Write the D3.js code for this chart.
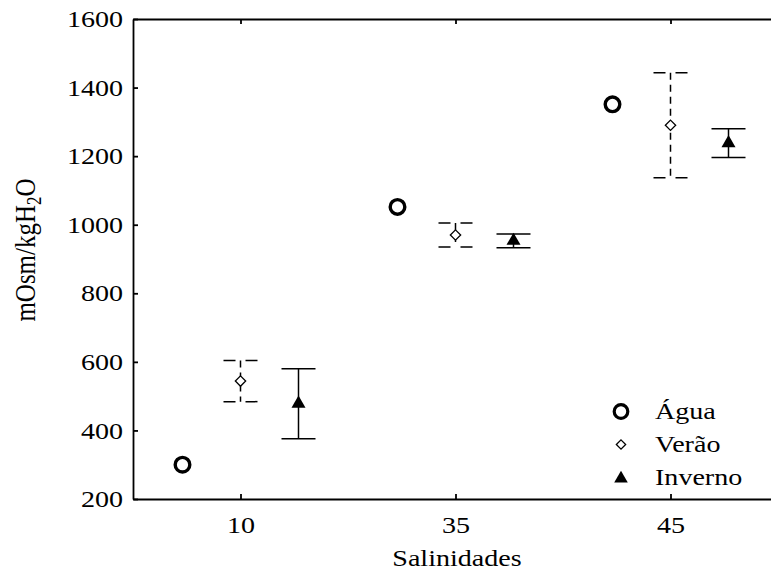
<!DOCTYPE html>
<html>
<head>
	<meta charset="utf-8">
	<title>Salinidades</title>
	<script src="https://cdn.jsdelivr.net/npm/d3@7"></script>
	<style>
	body { margin: 0; background: #fff; }
	svg text { font-family: 'Liberation Serif', serif; fill: #000; }
	.axis path, .axis line { stroke: #000; stroke-width: 1.8; }
	</style>
</head>
<body>
	<svg id="chart"></svg>
<script>
	// data
	var salinidades = ["10", "35", "45"];
	var agua = [300, 1052, 1351];
	var veraoMean = [544, 970, 1290];
	var veraoErr = [60, 35, 153];
	var invernoMean = [478, 953, 1238];
	var invernoErr = [102, 20, 42];
	var yTicks = [200, 400, 600, 800, 1000, 1200, 1400, 1600];
	var legendNames = ["Água", "Verão", "Inverno"];

	var width = 771, height = 583;
	var margin = {top: 19, right: -7, bottom: 84, left: 133};
	var fontSize = 24;
	var sx = 1.17; // the original figure is stretched sideways

	var svg = d3.select("#chart")
		.attr("width", width)
		.attr("height", height);

	var x = d3.scalePoint().domain(salinidades)
		.range([margin.left, width - margin.right]).padding(0.5);
	var y = d3.scaleLinear().domain([200, 1600])
		.range([height - margin.bottom, margin.top]);

	var offset = 58;

	//axes, ticks inward
	svg.append("g").attr("class", "axis")
		.attr("transform", "translate(" + margin.left + ",0)")
		.call(d3.axisLeft(y).tickValues(yTicks).tickFormat(d3.format("d"))
			.tickSize(-5).tickSizeOuter(0).tickPadding(8.5));

	svg.append("g").attr("class", "axis")
		.attr("transform", "translate(0," + (height - margin.bottom) + ")")
		.call(d3.axisBottom(x).tickSize(-5).tickSizeOuter(0).tickPadding(17));

	svg.append("g").attr("class", "axis")
		.attr("transform", "translate(0," + margin.top + ")")
		.call(d3.axisTop(x).tickSize(-5).tickSizeOuter(0).tickFormat(""));

	svg.selectAll(".axis")
		.attr("font-family", "Liberation Serif")
		.attr("font-size", fontSize);
	svg.selectAll(".axis text").attr("transform", "scale(" + sx + ",1)");

	// Água - open circles
	svg.selectAll("circle.agua")
		.data(agua).enter()
		.append("circle")
		.attr("class", "agua")
		.attr("cx", function(d, i) { return x(salinidades[i]) - offset; })
		.attr("cy", function(d) { return y(d); })
		.attr("r", 7.3)
		.attr("fill", "none")
		.attr("stroke", "#000")
		.attr("stroke-width", 3.4);

	// Verão - dashed error bars + open diamond
	var capW = 17;
	var verao = svg.selectAll("g.verao")
		.data(veraoMean).enter()
		.append("g")
		.attr("class", "verao")
		.attr("transform", function(d, i) { return "translate(" + x(salinidades[i]) + ",0)"; });

	verao.append("line")
		.attr("x1", 0).attr("x2", 0)
		.attr("y1", function(d, i) { return y(d + veraoErr[i]); })
		.attr("y2", function(d, i) { return y(d - veraoErr[i]); })
		.attr("stroke", "#000").attr("stroke-width", 1.5)
		.attr("stroke-dasharray", "7,5");

	verao.selectAll("line.cap")
		.data(function(d, i) { return [d + veraoErr[i], d - veraoErr[i]]; })
		.enter().append("line")
		.attr("class", "cap")
		.attr("x1", -capW).attr("x2", capW)
		.attr("y1", function(v) { return y(v); })
		.attr("y2", function(v) { return y(v); })
		.attr("stroke", "#000").attr("stroke-width", 1.5)
		.attr("stroke-dasharray", "12,10");

	verao.append("path")
		.attr("d", d3.symbol().type(d3.symbolDiamond2).size(68))
		.attr("transform", function(d) { return "translate(0," + y(d) + ")"; })
		.attr("fill", "#fff")
		.attr("stroke", "#000")
		.attr("stroke-width", 1.3);

	// Inverno - solid error bars + filled triangle
	var inverno = svg.selectAll("g.inverno")
		.data(invernoMean).enter()
		.append("g")
		.attr("class", "inverno")
		.attr("transform", function(d, i) { return "translate(" + (x(salinidades[i]) + offset) + ",0)"; });

	inverno.append("line")
		.attr("x1", 0).attr("x2", 0)
		.attr("y1", function(d, i) { return y(d + invernoErr[i]); })
		.attr("y2", function(d, i) { return y(d - invernoErr[i]); })
		.attr("stroke", "#000").attr("stroke-width", 1.5);

	inverno.selectAll("line.cap")
		.data(function(d, i) { return [d + invernoErr[i], d - invernoErr[i]]; })
		.enter().append("line")
		.attr("class", "cap")
		.attr("x1", -capW).attr("x2", capW)
		.attr("y1", function(v) { return y(v); })
		.attr("y2", function(v) { return y(v); })
		.attr("stroke", "#000").attr("stroke-width", 1.5);

	inverno.append("path")
		.attr("d", d3.symbol().type(d3.symbolTriangle).size(85))
		.attr("transform", function(d) { return "translate(0," + y(d) + ")"; })
		.attr("fill", "#000");

	// legend
	var legend = svg.append("g").attr("transform", "translate(621,411.5)");
	var items = legend.selectAll("g.item")
		.data(legendNames).enter()
		.append("g")
		.attr("class", "item")
		.attr("transform", function(d, i) { return "translate(0," + (i * 33) + ")"; });

	items.filter(function(d, i) { return i === 0; })
		.append("circle").attr("r", 6.8)
		.attr("fill", "none").attr("stroke", "#000").attr("stroke-width", 3.2);
	items.filter(function(d, i) { return i === 1; })
		.append("path").attr("d", d3.symbol().type(d3.symbolDiamond2).size(55))
		.attr("fill", "#fff").attr("stroke", "#000").attr("stroke-width", 1.3);
	items.filter(function(d, i) { return i === 2; })
		.append("path").attr("d", d3.symbol().type(d3.symbolTriangle).size(80))
		.attr("transform", "translate(0,1)")
		.attr("fill", "#000");

	items.append("text")
		.attr("transform", "translate(34,7) scale(" + sx + ",1)")
		.attr("font-size", fontSize)
		.text(function(d) { return d; });

	// axis titles
	svg.append("text")
		.attr("transform", "translate(457,566) scale(" + sx + ",1)")
		.attr("text-anchor", "middle")
		.attr("font-size", fontSize)
		.text("Salinidades");

	var ylab = svg.append("text")
		.attr("transform", "translate(35,250) scale(" + sx + ",1) rotate(-90)")
		.attr("text-anchor", "middle")
		.attr("font-size", 25);
	ylab.append("tspan").text("mOsm/kgH");
	ylab.append("tspan").attr("dy", 5).attr("font-size", 17).text("2");
	ylab.append("tspan").attr("dy", -5).text("O");
</script>
</body>
</html>
